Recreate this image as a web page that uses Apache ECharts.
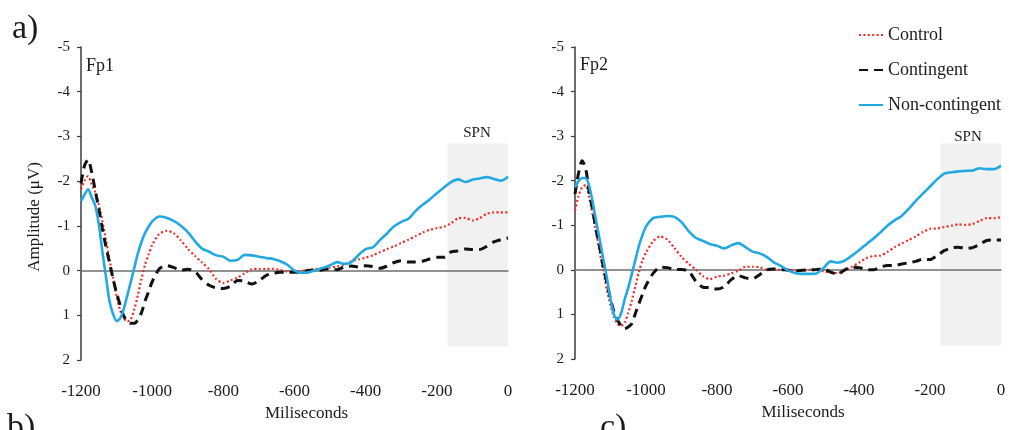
<!DOCTYPE html>
<html>
<head>
<meta charset="utf-8">
<script src="https://cdn.jsdelivr.net/npm/echarts@6/dist/echarts.min.js"></script>
<style>
  html, body { margin: 0; padding: 0; background: #ffffff; }
  #chart { width: 1009px; height: 430px; }
</style>
</head>
<body>
<div id="chart"></div>
<script>
// Sampling times (ms before stimulus onset)
const timeMs = [
  -1200, -1190, -1180, -1170, -1160, -1150, -1140, -1130, -1120, -1110, -1100,
  -1090, -1080, -1070, -1060, -1050, -1040, -1030, -1020, -1010, -1000,
  -980, -960, -940, -920, -900, -880, -860, -840, -820, -800,
  -780, -760, -740, -720, -700, -680, -660, -640, -620, -600,
  -580, -560, -540, -520, -500, -480, -460, -440, -420, -400,
  -380, -360, -340, -320, -300, -280, -260, -240, -220, -200,
  -180, -160, -140, -120, -100, -80, -60, -40, -20, 0
];

const conditionNames = ['Control', 'Contingent', 'Non-contingent'];

// Fp1 grand averages (µV)
const fp1Control = [
  -1.82, -2.01, -2.11, -1.93, -1.75, -1.47, -1.11, -0.69, -0.26, 0.16, 0.57,
  0.89, 1.06, 1.14, 1.09, 0.86, 0.54, 0.18, -0.13, -0.36, -0.57,
  -0.82, -0.89, -0.84, -0.68, -0.49, -0.33, -0.18, -0.03, 0.19, 0.28,
  0.22, 0.16, 0.06, -0.03, -0.04, -0.04, -0.04, -0.01, 0.02, 0.03,
  0.01, -0.02, -0.04, -0.04, -0.07, -0.09, -0.13, -0.21, -0.25, -0.29,
  -0.34, -0.41, -0.48, -0.54, -0.62, -0.69, -0.77, -0.85, -0.91, -0.95,
  -0.98, -1.06, -1.17, -1.18, -1.12, -1.17, -1.27, -1.30, -1.30, -1.30
];
const fp1Contingent = [
  -1.95, -2.35, -2.48, -2.20, -1.79, -1.38, -0.94, -0.54, -0.18, 0.18, 0.50,
  0.77, 1.01, 1.14, 1.18, 1.18, 1.10, 0.94, 0.68, 0.47, 0.25,
  -0.04, -0.11, -0.07, -0.01, -0.03, 0.02, 0.20, 0.33, 0.39, 0.40,
  0.35, 0.22, 0.24, 0.30, 0.23, 0.11, 0.06, 0.04, 0.04, 0.04,
  0.03, 0.00, 0.00, -0.02, -0.04, -0.02, -0.08, -0.10, -0.08, -0.11,
  -0.09, -0.05, -0.10, -0.18, -0.22, -0.19, -0.19, -0.21, -0.26, -0.30,
  -0.30, -0.42, -0.44, -0.48, -0.47, -0.47, -0.54, -0.64, -0.69, -0.73
];
const fp1NonContingent = [
  -1.55, -1.70, -1.82, -1.64, -1.45, -1.04, -0.43, 0.13, 0.68, 0.97, 1.13,
  1.07, 0.86, 0.56, 0.25, -0.07, -0.39, -0.64, -0.84, -0.98, -1.10,
  -1.21, -1.18, -1.11, -1.01, -0.86, -0.66, -0.49, -0.42, -0.34, -0.31,
  -0.22, -0.24, -0.35, -0.34, -0.31, -0.28, -0.26, -0.21, -0.13, 0.00,
  0.05, 0.04, -0.01, -0.06, -0.12, -0.19, -0.15, -0.19, -0.35, -0.48,
  -0.52, -0.68, -0.83, -0.99, -1.09, -1.16, -1.33, -1.47, -1.59, -1.73,
  -1.86, -1.98, -2.04, -1.98, -2.03, -2.06, -2.09, -2.05, -2.01, -2.10
];

// Fp2 grand averages (µV)
const fp2Control = [
  -1.33, -1.66, -1.85, -1.90, -1.62, -1.23, -0.82, -0.38, 0.04, 0.46, 0.79,
  1.06, 1.21, 1.26, 1.18, 0.96, 0.69, 0.37, 0.05, -0.21, -0.39,
  -0.64, -0.75, -0.68, -0.49, -0.29, -0.14, -0.01, 0.14, 0.21, 0.15,
  0.13, 0.08, 0.02, -0.07, -0.07, -0.06, 0.00, 0.00, 0.00, 0.00,
  0.02, 0.02, 0.00, 0.01, 0.03, 0.07, 0.07, 0.02, -0.07, -0.16,
  -0.26, -0.31, -0.32, -0.40, -0.51, -0.59, -0.67, -0.75, -0.85, -0.92,
  -0.93, -0.96, -0.99, -1.02, -1.01, -1.03, -1.10, -1.16, -1.16, -1.18
];
const fp2Contingent = [
  -1.70, -2.17, -2.45, -2.28, -1.75, -1.33, -0.88, -0.49, -0.06, 0.30, 0.65,
  0.95, 1.13, 1.25, 1.32, 1.28, 1.21, 0.98, 0.76, 0.55, 0.35,
  0.08, -0.06, -0.05, -0.01, -0.01, 0.03, 0.25, 0.39, 0.40, 0.43,
  0.38, 0.22, 0.13, 0.18, 0.20, 0.11, 0.00, -0.02, -0.01, 0.01,
  0.02, 0.01, 0.00, -0.01, -0.02, 0.05, 0.10, 0.00, -0.06, -0.05,
  -0.01, 0.00, -0.06, -0.10, -0.10, -0.13, -0.16, -0.19, -0.24, -0.23,
  -0.32, -0.43, -0.49, -0.51, -0.48, -0.50, -0.57, -0.66, -0.67, -0.67
];
const fp2NonContingent = [
  -1.85, -1.99, -2.06, -2.06, -1.88, -1.51, -1.07, -0.66, -0.23, 0.19, 0.66,
  1.01, 1.12, 0.97, 0.66, 0.40, 0.09, -0.22, -0.54, -0.78, -0.97,
  -1.16, -1.19, -1.21, -1.19, -1.07, -0.87, -0.72, -0.65, -0.58, -0.54,
  -0.48, -0.55, -0.60, -0.51, -0.41, -0.37, -0.29, -0.17, -0.09, 0.01,
  0.07, 0.09, 0.09, 0.08, -0.04, -0.19, -0.16, -0.21, -0.32, -0.44,
  -0.57, -0.70, -0.84, -0.99, -1.11, -1.21, -1.37, -1.55, -1.71, -1.87,
  -2.03, -2.16, -2.19, -2.21, -2.22, -2.23, -2.28, -2.26, -2.26, -2.34
];

// Shaded SPN window: time span (ms) and amplitude span (µV)
const spnWindowMs = [-170, 0];
const spnAmplitude = [-2.84, 1.70];

const SERIF = "'Liberation Serif', 'Times New Roman', serif";
const TEXT = '#1c1c1c';

const styles = {
  'Control': { color: '#ee2b25', lineStyle: { type: [2, 2.4], width: 2.2 } },
  'Contingent': { color: '#111111', lineStyle: { type: [9, 6], width: 3 } },
  'Non-contingent': { color: '#22a9e2', lineStyle: { type: 'solid', width: 2.6 } }
};

function pairs(values) {
  return timeMs.map((t, i) => [t, values[i]]);
}

const grids = [
  { left: 81, top: 47, width: 427, height: 313 },
  { left: 575, top: 47, width: 426, height: 312 }
];

const xAxes = [];
const yAxes = [];
[0, 1].forEach((g) => {
  // labelled time axis at the bottom
  xAxes.push({
    type: 'value', gridIndex: g, min: -1200, max: 0, interval: 200,
    position: 'bottom',
    axisLine: { show: false, onZero: false },
    axisTick: { show: false },
    splitLine: { show: false },
    axisLabel: { fontFamily: SERIF, fontSize: 17, color: TEXT, margin: 23,
      formatter: (v) => String(v) },
    name: 'Miliseconds', nameLocation: 'middle', nameGap: 44,
    nameTextStyle: { fontFamily: SERIF, fontSize: 17, color: TEXT,
      padding: g === 0 ? [0, 0, 0, 24] : [0, 0, 0, 30] }
  });
  // baseline through 0 µV
  xAxes.push({
    type: 'value', gridIndex: g, min: -1200, max: 0, interval: 200,
    z: 1,
    axisLine: { show: true, onZero: true, lineStyle: { color: '#6e6e6e', width: 1.5 } },
    axisTick: { show: false },
    axisLabel: { show: false },
    splitLine: { show: false }
  });
  yAxes.push({
    type: 'value', gridIndex: g, min: -5, max: 2, interval: 1, inverse: true,
    axisLine: { show: true, onZero: false, lineStyle: { color: '#3c3c3c', width: 1.5 } },
    axisTick: { show: true, inside: false, length: 4, lineStyle: { color: '#3c3c3c', width: 1.2 } },
    splitLine: { show: false },
    axisLabel: { fontFamily: SERIF, fontSize: 15, color: TEXT, margin: 11 }
  });
});

const panels = [
  [fp1Control, fp1Contingent, fp1NonContingent],
  [fp2Control, fp2Contingent, fp2NonContingent]
];

const series = [];
panels.forEach((sets, g) => {
  series.push({
    type: 'line', name: 'spn-' + g, xAxisIndex: g * 2, yAxisIndex: g,
    data: [], silent: true, z: 0,
    markArea: {
      silent: true, z: 0,
      itemStyle: { color: '#f1f1f1' },
      data: [[
        { xAxis: spnWindowMs[0], yAxis: spnAmplitude[0] },
        { xAxis: spnWindowMs[1], yAxis: spnAmplitude[1] }
      ]]
    }
  });
  sets.forEach((vals, k) => {
    const name = conditionNames[k];
    series.push({
      type: 'line', name, xAxisIndex: g * 2, yAxisIndex: g,
      data: pairs(vals), showSymbol: false, symbol: 'none', smooth: 0.25,
      z: 3, color: styles[name].color, lineStyle: styles[name].lineStyle,
      animation: false
    });
  });
});

const chart = echarts.init(document.getElementById('chart'), null, { renderer: 'canvas' });
chart.setOption({
  animation: false,
  backgroundColor: '#ffffff',
  grid: grids,
  xAxis: xAxes,
  yAxis: yAxes,
  series,
  legend: {
    data: conditionNames,
    orient: 'vertical', left: 858, top: 26, padding: 0,
    itemWidth: 24, itemHeight: 14, itemGap: 17,
    itemStyle: { opacity: 0 },
    textStyle: { fontFamily: SERIF, fontSize: 18, color: TEXT, lineHeight: 18 }
  },
  graphic: [
    { type: 'text', left: 12, top: 12, style: { text: 'a)', font: '34px ' + SERIF, fill: TEXT } },
    { type: 'text', left: 7, top: 411, style: { text: 'b)', font: '34px ' + SERIF, fill: TEXT } },
    { type: 'text', left: 600, top: 411, style: { text: 'c)', font: '34px ' + SERIF, fill: TEXT } },
    { type: 'text', left: 86, top: 57, style: { text: 'Fp1', font: '18px ' + SERIF, fill: TEXT } },
    { type: 'text', left: 580, top: 56, style: { text: 'Fp2', font: '18px ' + SERIF, fill: TEXT } },
    { type: 'text', x: 477, y: 133, style: { text: 'SPN', font: '15px ' + SERIF, fill: TEXT, align: 'center', verticalAlign: 'middle' } },
    { type: 'text', x: 968, y: 137, style: { text: 'SPN', font: '15px ' + SERIF, fill: TEXT, align: 'center', verticalAlign: 'middle' } },
    { type: 'text', x: 35, y: 217, rotation: Math.PI / 2,
      style: { text: 'Amplitude (μV)', font: '17px ' + SERIF, fill: TEXT, align: 'center', verticalAlign: 'middle' } }
  ]
});
</script>
</body>
</html>
